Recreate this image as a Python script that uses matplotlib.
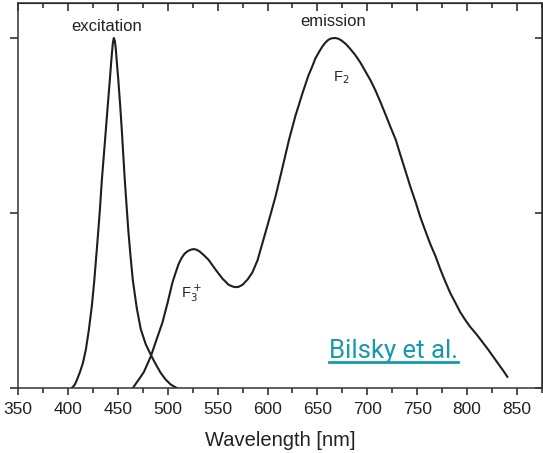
import matplotlib.pyplot as plt
from matplotlib.lines import Line2D

# excitation spectrum (wavelength nm, normalised intensity)
exc_nm = [404, 407, 409, 412, 415, 418, 421, 424, 426.5, 428.5, 430.5, 432.3, 434, 436, 438,
          440, 442, 443, 444, 445, 446, 447, 448, 449, 450.5, 452.3, 454, 455.5, 457, 458.8,
          460.5, 462.7, 465, 469, 473, 478, 483, 488, 493, 498, 503, 509]
exc_val = [0.0, 0.01, 0.023, 0.045, 0.071, 0.11, 0.166, 0.235, 0.309, 0.38, 0.451, 0.52, 0.594,
           0.665, 0.737, 0.81, 0.88, 0.918, 0.953, 0.985, 1.0, 0.992, 0.968, 0.932, 0.88, 0.81,
           0.737, 0.665, 0.594, 0.52, 0.451, 0.378, 0.309, 0.228, 0.168, 0.125, 0.095, 0.068,
           0.043, 0.024, 0.01, 0.0]

# emission spectrum (F3+ shoulder and F2 band)
em_nm = [465, 470, 476, 483, 489, 494.6, 500, 504.6, 508, 511, 514, 517, 520, 523, 526, 529,
         532, 536, 541, 548, 554.7, 561, 565, 568, 571, 575, 580, 584.8, 590, 594.8, 601, 608,
         615, 621.5, 628, 635, 641, 645, 648, 652, 655, 658, 661, 664, 668, 671, 674, 678, 681,
         684, 688, 693, 698, 703, 708, 713, 718, 723, 728.5, 733, 738, 743, 748.5, 753, 758,
         763, 768.5, 773, 778, 783, 788.5, 793, 798, 803, 808.6, 813, 817, 821, 825, 829, 833,
         837, 840.3]
em_val = [0.0, 0.02, 0.045, 0.09, 0.14, 0.186, 0.245, 0.30, 0.33, 0.355, 0.372, 0.384, 0.391,
          0.395, 0.397, 0.395, 0.39, 0.38, 0.366, 0.338, 0.313, 0.295, 0.29, 0.288, 0.289, 0.295,
          0.31, 0.33, 0.365, 0.413, 0.475, 0.547, 0.63, 0.709, 0.778, 0.842, 0.893, 0.92, 0.942,
          0.962, 0.976, 0.987, 0.995, 0.999, 1.0, 0.998, 0.993, 0.984, 0.975, 0.965, 0.951, 0.93,
          0.905, 0.88, 0.851, 0.818, 0.783, 0.747, 0.709, 0.667, 0.622, 0.576, 0.53, 0.489, 0.45,
          0.412, 0.375, 0.34, 0.305, 0.272, 0.242, 0.217, 0.195, 0.175, 0.156, 0.14, 0.125,
          0.11, 0.094, 0.078, 0.062, 0.046, 0.032]

xticks = [350, 400, 450, 500, 550, 600, 650, 700, 750, 800, 850]
yticks = [0, 0.5, 1.0]

plt.rcParams['font.family'] = ['Liberation Sans', 'DejaVu Sans']

W, H = 543, 453
fig = plt.figure(figsize=(W / 100, H / 100), dpi=100)
ax = fig.add_axes([18 / W, 1 - 388 / H, 524 / W, 385 / H])

line_col = '#1e1e1e'
ax.plot(exc_nm, exc_val, color=line_col, lw=1.5)
ax.plot(em_nm, em_val, color=line_col, lw=1.5)

ax.set_xlim(350, 875)
ax.set_ylim(0, 1.1)

ax.set_xticks(xticks)
ax.set_xticks(range(375, 876, 50), minor=True)
ax.set_yticks(yticks)
ax.set_yticklabels([])
ax.tick_params(axis='x', which='major', direction='out', length=5, width=1.1,
               labelsize=12.5, pad=5, colors='#222222')
ax.tick_params(axis='x', which='minor', direction='out', length=3.5, width=1.1, colors='#222222')
ax.tick_params(axis='y', which='major', direction='out', length=6, width=1.1, colors='#222222')
for s in ax.spines.values():
    s.set_linewidth(1.1)
    s.set_color('#333333')

top = ax.secondary_xaxis('top')
top.set_xticks(xticks)
top.set_xticks(range(375, 876, 50), minor=True)
top.set_xticklabels([])
top.tick_params(which='major', direction='in', length=6, width=1.1, colors='#222222')
top.tick_params(which='minor', direction='in', length=3.5, width=1.1, colors='#222222')

right = ax.secondary_yaxis('right')
right.set_yticks(yticks)
right.set_yticklabels([])
right.tick_params(direction='in', length=5, width=1.1, colors='#222222')

ax.set_xlabel('Wavelength [nm]', fontsize=14.5, labelpad=10, color='#222222')

ax.text(439, 1.034, 'excitation', fontsize=12, ha='center', va='center', color='#222222')
ax.text(666, 1.046, 'emission', fontsize=12, ha='center', va='center', color='#222222')
ax.text(674, 0.886, r'F$_2$', fontsize=10.5, ha='center', va='center', color='#222222')
ax.text(524, 0.27, r'F$_3^+$', fontsize=10.5, ha='center', va='center', color='#222222')

teal = '#1699a9'
t = fig.text(393.5 / W, 1 - 358 / H, 'Bilsky et al.', fontsize=18.5, family='Roboto',
             fontweight='normal', color=teal, ha='center', va='baseline')
fig.canvas.draw()
bb = t.get_window_extent()
uy = (H - 361.5) / H
fig.add_artist(Line2D([bb.x0 / W, bb.x1 / W], [uy, uy], transform=fig.transFigure,
                      color=teal, lw=2))

fig.savefig('out.png', dpi=100)
